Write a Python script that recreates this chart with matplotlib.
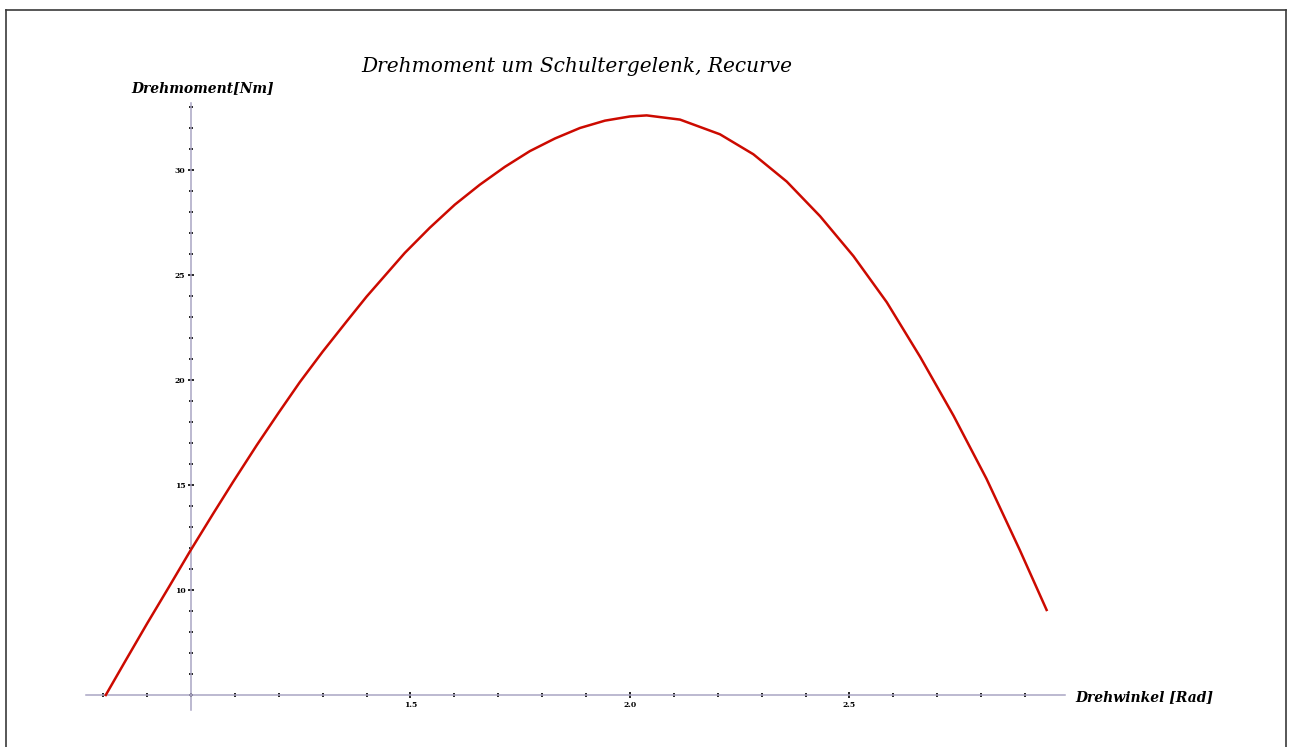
#!/usr/bin/env python3
import numpy as np
import matplotlib
matplotlib.use('Agg')
import matplotlib.pyplot as plt
from matplotlib.lines import Line2D
from matplotlib.ticker import MultipleLocator

plt.close('all')
plt.rcParams['font.family'] = 'DejaVu Serif'

W, H = 1293, 747

# Drehwinkel (Rad) vs Drehmoment (Nm)
angle  = [0.806, 0.85, 0.9, 0.95, 0.998, 1.051, 1.096, 1.15, 1.2, 1.248, 1.3, 1.355,
          1.4, 1.487, 1.544, 1.601, 1.658, 1.715, 1.772, 1.829, 1.886, 1.943, 2.0,
          2.038, 2.114, 2.205, 2.281, 2.357, 2.433, 2.509, 2.585, 2.661, 2.737,
          2.812, 2.888, 2.949]
torque = [5.0, 6.6, 8.4, 10.15, 11.85, 13.65, 15.15, 16.9, 18.45, 19.9, 21.35, 22.8,
          23.97, 26.05, 27.25, 28.35, 29.3, 30.15, 30.9, 31.5, 32.0, 32.35, 32.55,
          32.6, 32.4, 31.7, 30.75, 29.45, 27.8, 25.9, 23.7, 21.1, 18.3,
          15.3, 11.9, 9.05]

x_ticks = [1.5, 2.0, 2.5]
x_ticklabels = ['1.5', '2.0', '2.5']
y_ticks = [10, 15, 20, 25, 30]
y_ticklabels = ['10', '15', '20', '25', '30']

axis_col = '#aaa5c4'
line_col = '#cc0a00'

fig = plt.figure(figsize=(W/100, H/100), dpi=100)

# axes box in pixels (x 0.76..2.995, y 4.3..33.2)
left, right, top, bottom = 85.6, 1066.8, 102.8, 709.7
ax = fig.add_axes([left/W, 1 - bottom/H, (right - left)/W, (bottom - top)/H])
ax.set_xlim(0.76, 2.995)
ax.set_ylim(4.3, 33.2)
ax.patch.set_alpha(0)

ax.plot(angle, torque, color=line_col, lw=1.8, clip_on=False, zorder=3,
        solid_joinstyle='round')

# Mathematica-style axes crossing at (1.0, 5)
for s in ['top', 'right']:
    ax.spines[s].set_visible(False)
ax.spines['left'].set_position(('data', 1.0))
ax.spines['bottom'].set_position(('data', 5.0))
ax.spines['bottom'].set_bounds(0.76, 2.99)
for s in ['left', 'bottom']:
    ax.spines[s].set_color(axis_col)
    ax.spines[s].set_linewidth(1.1)

ax.set_xticks(x_ticks, labels=x_ticklabels)
ax.set_yticks(y_ticks, labels=y_ticklabels)
ax.xaxis.set_minor_locator(MultipleLocator(0.1))
ax.yaxis.set_minor_locator(MultipleLocator(1))
ax.tick_params(which='major', direction='inout', length=4, width=1.2, color='black', pad=2)
ax.tick_params(which='minor', direction='inout', length=2.5, width=1.2, color='black')
for lab in ax.get_xticklabels() + ax.get_yticklabels():
    lab.set_fontsize(5.5)
    lab.set_fontweight('bold')

fig.text(577/W, 1 - 66/H, 'Drehmoment um Schultergelenk, Recurve',
         style='italic', fontsize=14.5, ha='center', va='center')
fig.text(131/W, 1 - 88/H, 'Drehmoment[Nm]', style='italic', weight='bold',
         fontsize=10, ha='left', va='center')
fig.text(1075/W, 1 - 697/H, 'Drehwinkel [Rad]', style='italic', weight='bold',
         fontsize=10, ha='left', va='center')

# picture frame (top, left, right)
frame = dict(transform=fig.transFigure, color='#3a3a3a', lw=1.2)
fig.add_artist(Line2D([6/W, 1286/W], [1 - 10/H, 1 - 10/H], **frame))
fig.add_artist(Line2D([6/W, 6/W], [0, 1 - 10/H], **frame))
fig.add_artist(Line2D([1286/W, 1286/W], [0, 1 - 10/H], **frame))

fig.savefig('out.png', dpi=100)
